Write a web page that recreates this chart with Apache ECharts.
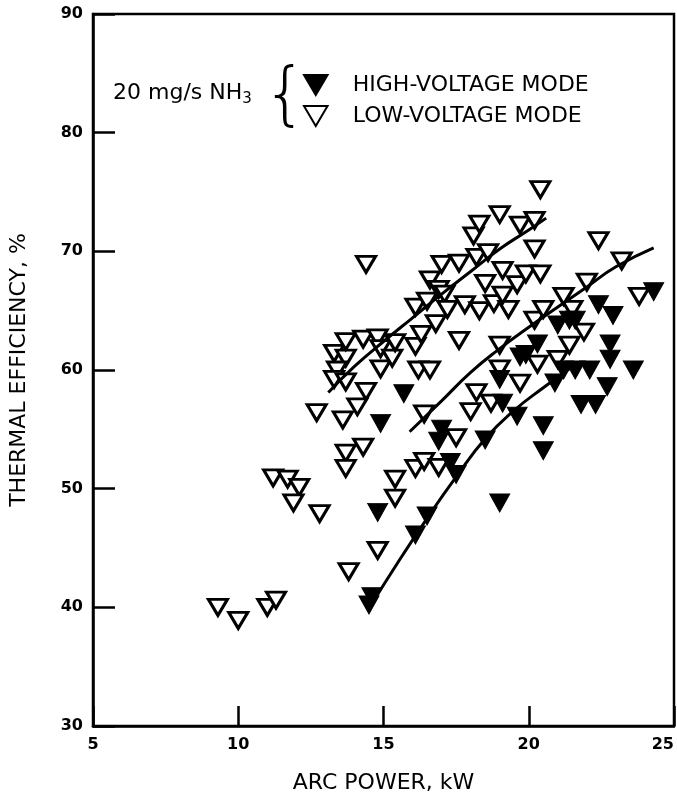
<!DOCTYPE html>
<html><head><meta charset="utf-8">
<script src="https://cdn.jsdelivr.net/npm/echarts@6/dist/echarts.min.js"></script>
<style>html,body{margin:0;padding:0;background:#fff}#c{width:677px;height:799px}</style>
</head><body><div id="c"></div>
<script>
// Low-voltage mode points [kW, efficiency %]
const lowVoltage = [
 [9.3,40.0],[10.0,38.9],[11.0,40.0],[11.3,40.6],
 [11.2,50.9],[11.7,50.8],[12.1,50.1],[11.9,48.8],[12.8,47.9],
 [12.7,56.4],[13.6,55.8],[13.7,53.0],[14.3,53.5],[13.7,51.7],
 [13.8,43.0],[14.8,44.8],[15.4,50.8],[15.4,49.2],
 [14.1,56.9],[14.4,58.2],
 [13.3,61.4],[13.7,61.0],[13.4,60.0],[13.3,59.2],[13.7,59.0],
 [13.7,62.4],[14.3,62.6],[14.8,62.7],[14.9,61.8],[14.9,60.1],[15.3,61.0],[15.4,62.3],
 [14.4,68.9],
 [16.2,60.0],[16.6,60.0],[16.1,62.0],[16.3,63.0],[16.8,63.9],
 [16.4,56.3],[17.5,54.3],[16.1,51.7],[16.4,52.3],[16.9,51.8],
 [16.1,65.3],[16.5,65.8],[16.6,67.6],[16.9,66.8],[17.1,66.4],
 [17.0,68.9],[17.6,69.0],[18.2,69.5],[18.6,69.9],
 [17.2,65.1],[17.8,65.5],[18.3,65.0],[18.8,65.6],[19.3,65.1],[19.1,66.3],
 [18.5,67.3],[19.6,67.2],[19.1,68.4],[19.9,68.1],[20.4,68.1],
 [18.1,71.3],[18.3,72.3],[19.0,73.1],[19.7,72.2],[20.2,72.6],[20.4,75.2],[20.2,70.2],
 [17.6,62.5],[19.0,62.1],[19.0,60.1],[19.7,58.9],[20.3,60.5],[21.0,60.9],[21.4,62.1],
 [18.2,58.1],[18.0,56.5],[18.7,57.2],
 [20.2,64.2],[20.5,65.1],[21.5,65.1],[21.2,66.2],[21.9,63.2],[22.0,67.4],
 [22.4,70.9],[23.2,69.2],[23.8,66.2]
];
// High-voltage mode points [kW, efficiency %]
const highVoltage = [
 [14.5,40.2],[14.6,40.9],
 [14.8,48.0],[16.1,46.1],[16.5,47.7],[14.9,55.5],[15.7,58.0],
 [17.0,55.0],[16.9,54.0],[17.3,52.2],[17.5,51.2],
 [18.5,54.1],[19.0,48.8],[19.6,56.1],[20.5,55.3],[20.5,53.2],
 [19.0,59.2],[19.1,57.2],[19.7,61.1],[19.9,61.3],[20.3,62.2],
 [20.9,58.9],[21.2,60.0],[21.6,60.0],[22.1,60.0],[23.6,60.0],
 [22.7,58.6],[21.8,57.1],[22.3,57.1],[22.8,60.9],[22.8,62.2],
 [21.0,63.8],[21.4,64.2],[21.6,64.2],[22.4,65.5],[22.9,64.6],[24.3,66.6]
];
// Fitted curves
const curveLowUpper = [[13.1,58.1],[14,60.3],[15,62.4],[16,64.4],[17,66.4],[18,68.3],[19,70.2],[20,71.8],[20.6,72.8]];
const curveLowLower = [[15.9,54.8],[17,57.4],[18,59.8],[19,61.8],[20,63.6],[21,65.3],[22,67.0],[23,68.7],[24.3,70.3]];
const curveHigh = [[14.6,40.3],[15.5,43.8],[16.5,47.5],[17.5,51.0],[18.5,54.2],[19.5,56.6],[20.5,58.5],[21.4,60.1]];
const xTicks = [5,10,15,20,25];
const yTicks = [30,40,50,60,70,80,90];

const tri = 'path://M0,0L20,0L10,17Z';
const font = 'DejaVu Sans';
const chart = echarts.init(document.getElementById('c'));
const lineSeries = (d) => ({type:'line', data:d, smooth:true, showSymbol:false, silent:true,
  lineStyle:{color:'#000', width:3}, z:5});
chart.setOption({
  animation:false,
  backgroundColor:'#fff',
  grid:{left:92, right:1, top:14, bottom:66, show:true, borderColor:'#000', borderWidth:2.5},
  xAxis:{type:'value', min:xTicks[0], max:xTicks[xTicks.length-1], interval:5,
    name:'ARC POWER, kW', nameLocation:'middle', nameGap:46,
    nameTextStyle:{fontFamily:font, fontSize:22, color:'#000'},
    axisLine:{lineStyle:{color:'#000', width:2.5}},
    axisTick:{inside:true, length:20, lineStyle:{color:'#000', width:2.5}},
    axisLabel:{fontFamily:font, fontWeight:'bold', fontSize:16, color:'#000', margin:11, alignMaxLabel:'right'},
    splitLine:{show:false}},
  yAxis:{type:'value', min:yTicks[0], max:yTicks[yTicks.length-1], interval:10,
    name:'THERMAL EFFICIENCY, %', nameLocation:'middle', nameGap:63, nameRotate:90,
    nameTextStyle:{fontFamily:font, fontSize:22, color:'#000'},
    axisLine:{lineStyle:{color:'#000', width:2.5}},
    axisTick:{inside:true, length:22, lineStyle:{color:'#000', width:2.5}},
    axisLabel:{fontFamily:font, fontWeight:'bold', fontSize:16, color:'#000', margin:10},
    splitLine:{show:false}},
  legend:{orient:'vertical', left:298, top:69, itemWidth:24, itemHeight:20, itemGap:9,
    textStyle:{fontFamily:font, fontSize:22, color:'#000', padding:[0,0,0,20]},
    data:['HIGH-VOLTAGE MODE','LOW-VOLTAGE MODE']},
  graphic:[
    {type:'text', left:113, top:82, style:{text:'20 mg/s NH{s|3}', fontFamily:font, fontSize:22, fill:'#000',
      rich:{s:{fontFamily:font, fontSize:15, padding:[12,0,0,0], fill:'#000'}}}},
    {type:'text', left:263, top:64, style:{text:'{', fontFamily:font, fontSize:70, fontWeight:'lighter', fill:'#000'}}
  ],
  series:[
    {name:'LOW-VOLTAGE MODE', type:'scatter', data:lowVoltage, symbol:tri, symbolSize:[19,16],
      itemStyle:{color:'#fff', borderColor:'#000', borderWidth:3, opacity:1}, z:2},
    {name:'HIGH-VOLTAGE MODE', type:'scatter', data:highVoltage, symbol:tri, symbolSize:[20,18],
      itemStyle:{color:'#000', borderColor:'#000', borderWidth:1, opacity:1}, z:3},
    lineSeries(curveLowUpper), lineSeries(curveLowLower), lineSeries(curveHigh)
  ]
});
</script></body></html>
